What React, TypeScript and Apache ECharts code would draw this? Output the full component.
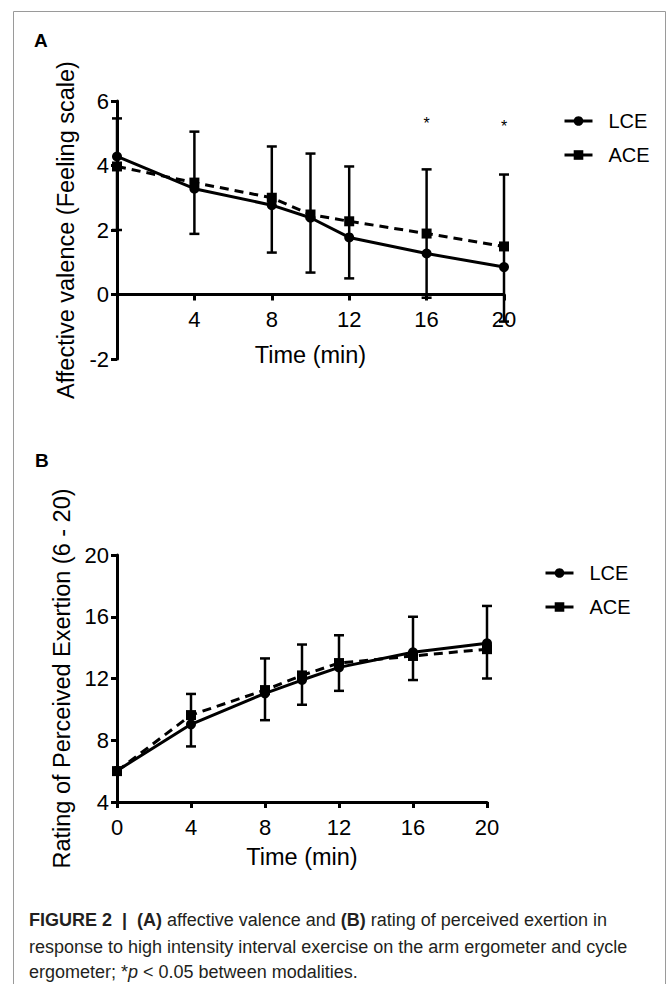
import React, { useEffect, useRef } from "react";
import * as echarts from "echarts";

// ---- data ----
const times = [0, 4, 8, 10, 12, 16, 20];

// Panel A: affective valence (Feeling scale)
const lceA = [4.28, 3.28, 2.77, 2.38, 1.77, 1.27, 0.85];
const aceA = [3.97, 3.47, 3.0, 2.48, 2.27, 1.89, 1.49];
const errHighA = [5.46, 5.05, 4.59, 4.37, 3.97, 3.88, 3.72];
const errLowA = [2.0, 1.88, 1.3, 0.68, 0.5, -0.1, -0.84];
const sigTimesA = [16, 20];
const sigYA = [5.3, 5.2];

// Panel B: rating of perceived exertion
const lceB = [6.03, 9.03, 11.04, 11.9, 12.72, 13.7, 14.28];
const aceB = [6.0, 9.63, 11.25, 12.2, 13.0, 13.46, 13.9];
const errHighB = [6.0, 11.0, 13.3, 14.2, 14.8, 16.0, 16.7];
const errLowB = [6.0, 7.6, 9.3, 10.3, 11.2, 11.9, 12.0];

const seriesNames = ["LCE", "ACE"];

const FONT = '"Liberation Sans", Arial, Helvetica, sans-serif';

function errRender(params: any, api: any) {
  const x = api.value(0);
  const lo = api.value(1);
  const hi = api.value(2);
  if (lo === hi) return { type: "group", children: [] };
  const p1 = api.coord([x, lo]);
  const p2 = api.coord([x, hi]);
  const w = 5;
  const st = { stroke: "#000", lineWidth: 2.5 };
  return {
    type: "group",
    children: [
      { type: "line", shape: { x1: p1[0], y1: p1[1], x2: p2[0], y2: p2[1] }, style: st },
      { type: "line", shape: { x1: p1[0] - w, y1: p1[1], x2: p1[0] + w, y2: p1[1] }, style: st },
      { type: "line", shape: { x1: p2[0] - w, y1: p2[1], x2: p2[0] + w, y2: p2[1] }, style: st },
    ],
  };
}

function sigRender(params: any, api: any) {
  const p = api.coord([api.value(0), api.value(1)]);
  return {
    type: "text",
    x: p[0],
    y: p[1],
    style: {
      text: "*",
      fontSize: 16,
      fontFamily: FONT,
      fill: "#000",
      align: "center",
      verticalAlign: "middle",
    },
  };
}

function axisCommon() {
  return {
    type: "value",
    splitLine: { show: false },
    axisLine: { show: true, onZero: false, lineStyle: { color: "#000", width: 3 } },
    axisTick: { show: true, length: 6, lineStyle: { color: "#000", width: 3 } },
    nameLocation: "middle",
    nameTextStyle: { fontSize: 23.5, color: "#000", fontFamily: FONT },
  };
}

export default function App() {
  const ref = useRef<HTMLDivElement>(null);

  useEffect(() => {
    if (!ref.current) return;
    const chart = echarts.init(ref.current, null, { renderer: "svg" });

    const lineSeries = (name: string, vals: number[], idx: number) => ({
      name,
      type: "line",
      xAxisIndex: idx,
      yAxisIndex: idx,
      data: times.map((t, i) => [t, vals[i]]),
      symbol: name === "LCE" ? "circle" : "rect",
      symbolSize: 10,
      itemStyle: { color: "#000" },
      lineStyle: {
        color: "#000",
        width: 3,
        type: name === "LCE" ? "solid" : [9, 6],
      },
      z: 3,
    });

    const legendCommon = {
      orient: "vertical",
      itemWidth: 28,
      itemHeight: 12,
      itemGap: 14,
      padding: 0,
      selectedMode: false,
      lineStyle: { type: "solid", width: 3 },
      formatter: "{t|{name}}",
      textStyle: {
        fontSize: 20,
        color: "#000",
        fontFamily: FONT,
        rich: { t: { fontSize: 20, color: "#000", fontFamily: FONT, padding: [0, 0, 0, 11] } },
      },
      data: seriesNames,
    };

    const option: any = {
      animation: false,
      backgroundColor: "#fff",
      grid: [
        { left: 117, top: 101, width: 387, height: 258 },
        { left: 117, top: 555, width: 370, height: 247 },
      ],
      legend: [
        { ...legendCommon, left: 563, top: 111 },
        { ...legendCommon, left: 544, top: 563 },
      ],
      xAxis: [
        {
          ...axisCommon(),
          gridIndex: 0,
          min: 0,
          max: 20,
          interval: 4,
          offset: -64.5,
          axisLabel: {
            fontSize: 22,
            color: "#000",
            fontFamily: FONT,
            margin: 14,
            formatter: (v: number) => (v === 0 ? "" : String(v)),
          },
          name: "Time (min)",
          nameGap: 48,
        },
        {
          ...axisCommon(),
          gridIndex: 1,
          min: 0,
          max: 20,
          interval: 4,
          axisLabel: { fontSize: 22, color: "#000", fontFamily: FONT, margin: 14 },
          name: "Time (min)",
          nameGap: 43,
        },
      ],
      yAxis: [
        {
          ...axisCommon(),
          gridIndex: 0,
          min: -2,
          max: 6,
          interval: 2,
          axisLabel: { fontSize: 22, color: "#000", fontFamily: FONT, margin: 8 },
          name: "Affective valence (Feeling scale)",
          nameGap: 39,
        },
        {
          ...axisCommon(),
          gridIndex: 1,
          min: 4,
          max: 20,
          interval: 4,
          axisLabel: { fontSize: 22, color: "#000", fontFamily: FONT, margin: 8 },
          name: "Rating of Perceived Exertion (6 - 20)",
          nameGap: 39,
        },
      ],
      series: [
        {
          type: "custom",
          name: "errA",
          xAxisIndex: 0,
          yAxisIndex: 0,
          data: times.map((t, i) => [t, errLowA[i], errHighA[i]]),
          renderItem: errRender,
          z: 2,
          silent: true,
        },
        lineSeries("LCE", lceA, 0),
        lineSeries("ACE", aceA, 0),
        {
          type: "custom",
          name: "sigA",
          xAxisIndex: 0,
          yAxisIndex: 0,
          data: sigTimesA.map((t, i) => [t, sigYA[i]]),
          renderItem: sigRender,
          silent: true,
        },
        {
          type: "custom",
          name: "errB",
          xAxisIndex: 1,
          yAxisIndex: 1,
          data: times.map((t, i) => [t, errLowB[i], errHighB[i]]),
          renderItem: errRender,
          z: 2,
          silent: true,
        },
        lineSeries("LCE", lceB, 1),
        lineSeries("ACE", aceB, 1),
      ],
      graphic: [
        {
          type: "rect",
          shape: { x: 13.5, y: 11.5, width: 652, height: 1000 },
          style: { fill: "none", stroke: "#9a9a9a", lineWidth: 1 },
          silent: true,
        },
        {
          type: "text",
          x: 34,
          y: 40,
          style: { text: "A", fontSize: 19, fontWeight: "bold", fontFamily: FONT, fill: "#000", verticalAlign: "middle" },
        },
        {
          type: "text",
          x: 35,
          y: 460,
          style: { text: "B", fontSize: 19, fontWeight: "bold", fontFamily: FONT, fill: "#000", verticalAlign: "middle" },
        },
        {
          type: "text",
          x: 29,
          y: 920,
          style: {
            text: "{b|FIGURE 2}  {b||}  {b|(A)} affective valence and {b|(B)} rating of perceived exertion in",
            fontSize: 18,
            fontFamily: FONT,
            fill: "#231f20",
            verticalAlign: "middle",
            rich: {
              b: { fontSize: 18, fontWeight: "bold", fontFamily: FONT, fill: "#231f20" },
            },
          },
        },
        {
          type: "text",
          x: 29,
          y: 947,
          style: {
            text: "response to high intensity interval exercise on the arm ergometer and cycle",
            fontSize: 18,
            fontFamily: FONT,
            fill: "#231f20",
            verticalAlign: "middle",
          },
        },
        {
          type: "text",
          x: 29,
          y: 972,
          style: {
            text: "ergometer; *{i|p} < 0.05 between modalities.",
            fontSize: 18,
            fontFamily: FONT,
            fill: "#231f20",
            verticalAlign: "middle",
            rich: {
              i: { fontSize: 18, fontStyle: "italic", fontFamily: FONT, fill: "#231f20" },
            },
          },
        },
      ],
    };

    chart.setOption(option);
    return () => chart.dispose();
  }, []);

  return (
    <div
      ref={ref}
      style={{ position: "absolute", left: 0, top: 0, width: 668, height: 984, background: "#fff" }}
    />
  );
}
